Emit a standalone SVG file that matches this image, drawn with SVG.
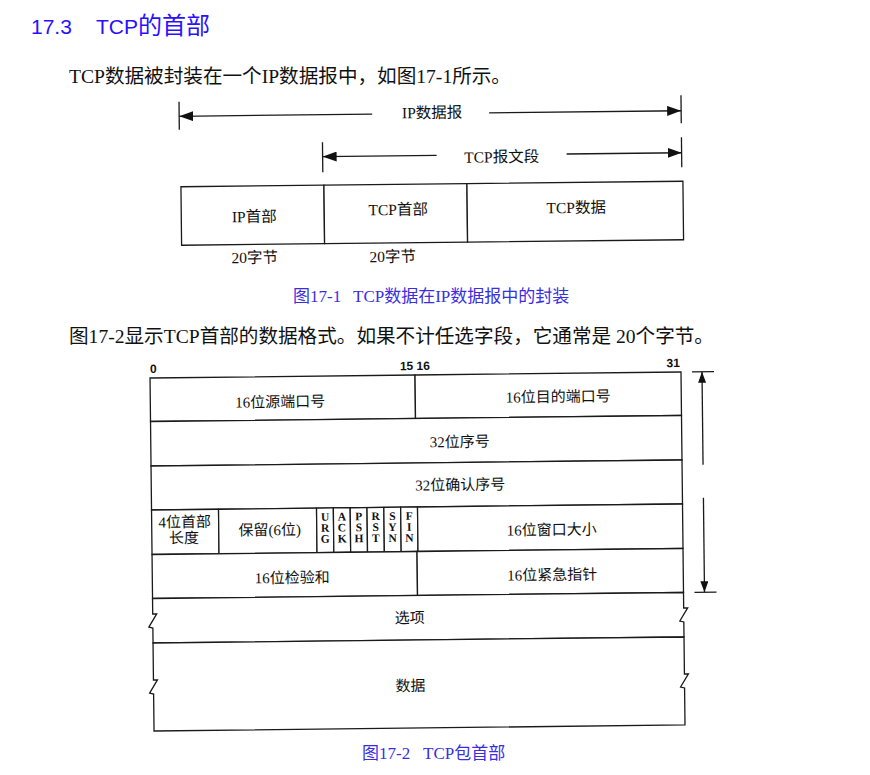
<svg xmlns="http://www.w3.org/2000/svg" width="870" height="775" viewBox="0 0 870 775">
<style>
.t{font-family:"Liberation Serif","Noto Sans CJK SC",serif;fill:#111;}
.m{text-anchor:middle;}
.f1{font-size:15.5px;}
.f2{font-size:15px;}
.fl{font-family:"Liberation Serif",serif;font-size:11.5px;font-weight:bold;text-anchor:middle;fill:#111;}
.num{font-family:"Liberation Sans",sans-serif;font-size:12px;font-weight:bold;fill:#111;}
.body{font-size:19.6px;}
.cap{font-family:"Liberation Serif","Noto Sans CJK SC",serif;font-size:17px;fill:#3a2ee0;}
.title{font-family:"Liberation Sans","Noto Sans CJK SC",sans-serif;fill:#2a10ff;}
.box{fill:#fff;stroke:#1a1a1a;stroke-width:1.3;}
.ln{fill:none;stroke:#1a1a1a;stroke-width:1.3;}
</style>
<defs>
<marker id="ah" viewBox="0 0 14 10" refX="14" refY="5" markerWidth="14" markerHeight="10" markerUnits="userSpaceOnUse" orient="auto"><path d="M0,0 L14,5 L0,10 Z" fill="#111"/></marker>
<marker id="ahs" viewBox="0 0 11 8" refX="11" refY="4" markerWidth="11" markerHeight="8" markerUnits="userSpaceOnUse" orient="auto"><path d="M0,0 L11,4 L0,8 Z" fill="#111"/></marker>
</defs>
<rect width="870" height="775" fill="#fff"/>

<text class="title" x="31" y="34" font-size="21">17.3</text>
<text class="title" x="96" y="34" font-size="21">TCP<tspan font-size="24">的首部</tspan></text>
<text class="t body" x="69" y="83">TCP数据被封装在一个IP数据报中，如图17-1所示。</text>

<g id="figure1" transform="rotate(-0.63 432 190)">
  <g id="connectors1">
    <line class="ln" x1="180" y1="99" x2="180" y2="127"/>
    <line class="ln" x1="682" y1="98" x2="682" y2="126"/>
    <line class="ln" x1="373" y1="113.5" x2="180" y2="113.5" marker-end="url(#ah)"/>
    <line class="ln" x1="490" y1="113.5" x2="682" y2="113.5" marker-end="url(#ah)"/>
    <line class="ln" x1="323" y1="141" x2="323" y2="171"/>
    <line class="ln" x1="682" y1="140" x2="682" y2="170"/>
    <line class="ln" x1="437" y1="155.5" x2="323" y2="155.5" marker-end="url(#ah)"/>
    <line class="ln" x1="567" y1="155.5" x2="682" y2="155.5" marker-end="url(#ah)"/>
  </g>
  <g id="label-ip-datagram"><text class="t f1 m" x="433" y="118">IP数据报</text></g>
  <g id="label-tcp-segment"><text class="t f1 m" x="502" y="163">TCP报文段</text></g>
  <g id="ip-header">
    <rect class="box" x="181" y="184" width="143" height="58.5"/>
    <text class="t f1 m" x="254" y="220">IP首部</text>
    <text class="t f1 m" x="254" y="261">20字节</text>
  </g>
  <g id="tcp-header">
    <rect class="box" x="324" y="184" width="143" height="58.5"/>
    <text class="t f1 m" x="398" y="214.6">TCP首部</text>
    <text class="t f1 m" x="392" y="261.5">20字节</text>
  </g>
  <g id="tcp-data">
    <rect class="box" x="467" y="184" width="216" height="58.5"/>
    <text class="t f1 m" x="576" y="214.6">TCP数据</text>
  </g>
</g>

<text class="cap" x="293" y="302">图17-1</text>
<text class="cap" x="353" y="302">TCP数据在IP数据报中的封装</text>

<text class="t body" x="69" y="343">图17-2显示TCP首部的数据格式。如果不计任选字段，它通常是 20个字节。</text>

<g id="figure2" transform="rotate(-0.65 417 550)">
  <text class="num" x="152" y="370">0</text>
  <text class="num" x="417" y="370" text-anchor="middle">15 16</text>
  <text class="num" x="682" y="370" text-anchor="end">31</text>

  <g id="src-port">
    <rect class="box" x="152" y="375" width="265" height="43.5"/>
    <text class="t f2 m" x="282" y="405.5">16位源端口号</text>
  </g>
  <g id="dst-port">
    <rect class="box" x="417" y="375" width="266" height="43.5"/>
    <text class="t f2 m" x="560" y="403.5">16位目的端口号</text>
  </g>
  <g id="seq-num">
    <rect class="box" x="152" y="418.5" width="531" height="44.5"/>
    <text class="t f2 m" x="461" y="447.5">32位序号</text>
  </g>
  <g id="ack-num">
    <rect class="box" x="152" y="463" width="531" height="44"/>
    <text class="t f2 m" x="461" y="490.5">32位确认序号</text>
  </g>
  <g id="header-length">
    <rect class="box" x="152" y="507" width="67" height="44.5"/>
    <text class="t f2 m" x="185" y="524.5">4位首部<tspan x="184" y="540.5">长度</tspan></text>
  </g>
  <g id="reserved">
    <rect class="box" x="219" y="507" width="98" height="44.5"/>
    <text class="t f2 m" x="270" y="533.5">保留(6位)</text>
  </g>
  <g id="flag-urg">
    <rect class="box" x="317" y="507" width="16.83" height="44.5"/>
    <text class="fl" x="325.4" y="519.6">U<tspan x="325.4" y="530.6">R</tspan><tspan x="325.4" y="541.6">G</tspan></text>
  </g>
  <g id="flag-ack">
    <rect class="box" x="333.83" y="507" width="16.83" height="44.5"/>
    <text class="fl" x="342.2" y="519.6">A<tspan x="342.2" y="530.6">C</tspan><tspan x="342.2" y="541.6">K</tspan></text>
  </g>
  <g id="flag-psh">
    <rect class="box" x="350.66" y="507" width="16.83" height="44.5"/>
    <text class="fl" x="359.1" y="519.6">P<tspan x="359.1" y="530.6">S</tspan><tspan x="359.1" y="541.6">H</tspan></text>
  </g>
  <g id="flag-rst">
    <rect class="box" x="367.5" y="507" width="16.83" height="44.5"/>
    <text class="fl" x="375.9" y="519.6">R<tspan x="375.9" y="530.6">S</tspan><tspan x="375.9" y="541.6">T</tspan></text>
  </g>
  <g id="flag-syn">
    <rect class="box" x="384.33" y="507" width="16.83" height="44.5"/>
    <text class="fl" x="392.7" y="519.6">S<tspan x="392.7" y="530.6">Y</tspan><tspan x="392.7" y="541.6">N</tspan></text>
  </g>
  <g id="flag-fin">
    <rect class="box" x="401.16" y="507" width="16.84" height="44.5"/>
    <text class="fl" x="409.6" y="519.6">F<tspan x="409.6" y="530.6">I</tspan><tspan x="409.6" y="541.6">N</tspan></text>
  </g>
  <g id="window-size">
    <rect class="box" x="418" y="507" width="265" height="44.5"/>
    <text class="t f2 m" x="552" y="536.5">16位窗口大小</text>
  </g>
  <g id="checksum">
    <rect class="box" x="152" y="551.5" width="265" height="44"/>
    <text class="t f2 m" x="292" y="581.5">16位检验和</text>
  </g>
  <g id="urgent-pointer">
    <rect class="box" x="417" y="551.5" width="266" height="44"/>
    <text class="t f2 m" x="552" y="581.5">16位紧急指针</text>
  </g>
  <g id="options">
    <path class="box" d="M152,595.5 H683 V611 L687,611 L679,624 L683,625 V640 H152 V625 L148,624 L156,611 L152,611 Z"/>
    <text class="t f2 m" x="409" y="623">选项</text>
  </g>
  <g id="data">
    <path class="box" d="M152,640 H683 V677 L687,677 L679,690 L683,691 V728 H152 V691 L148,690 L156,677 L152,677 Z"/>
    <text class="t f2 m" x="409" y="691">数据</text>
  </g>
  <g id="connectors2">
    <line class="ln" x1="694" y1="375" x2="716" y2="375"/>
    <line class="ln" x1="694" y1="595.5" x2="716" y2="595.5"/>
    <line class="ln" x1="704" y1="468" x2="704" y2="375" marker-end="url(#ahs)"/>
    <line class="ln" x1="704" y1="501" x2="704" y2="595.5" marker-end="url(#ahs)"/>
  </g>
</g>

<text class="cap" x="362" y="759">图17-2</text>
<text class="cap" x="423" y="759">TCP包首部</text>
</svg>
